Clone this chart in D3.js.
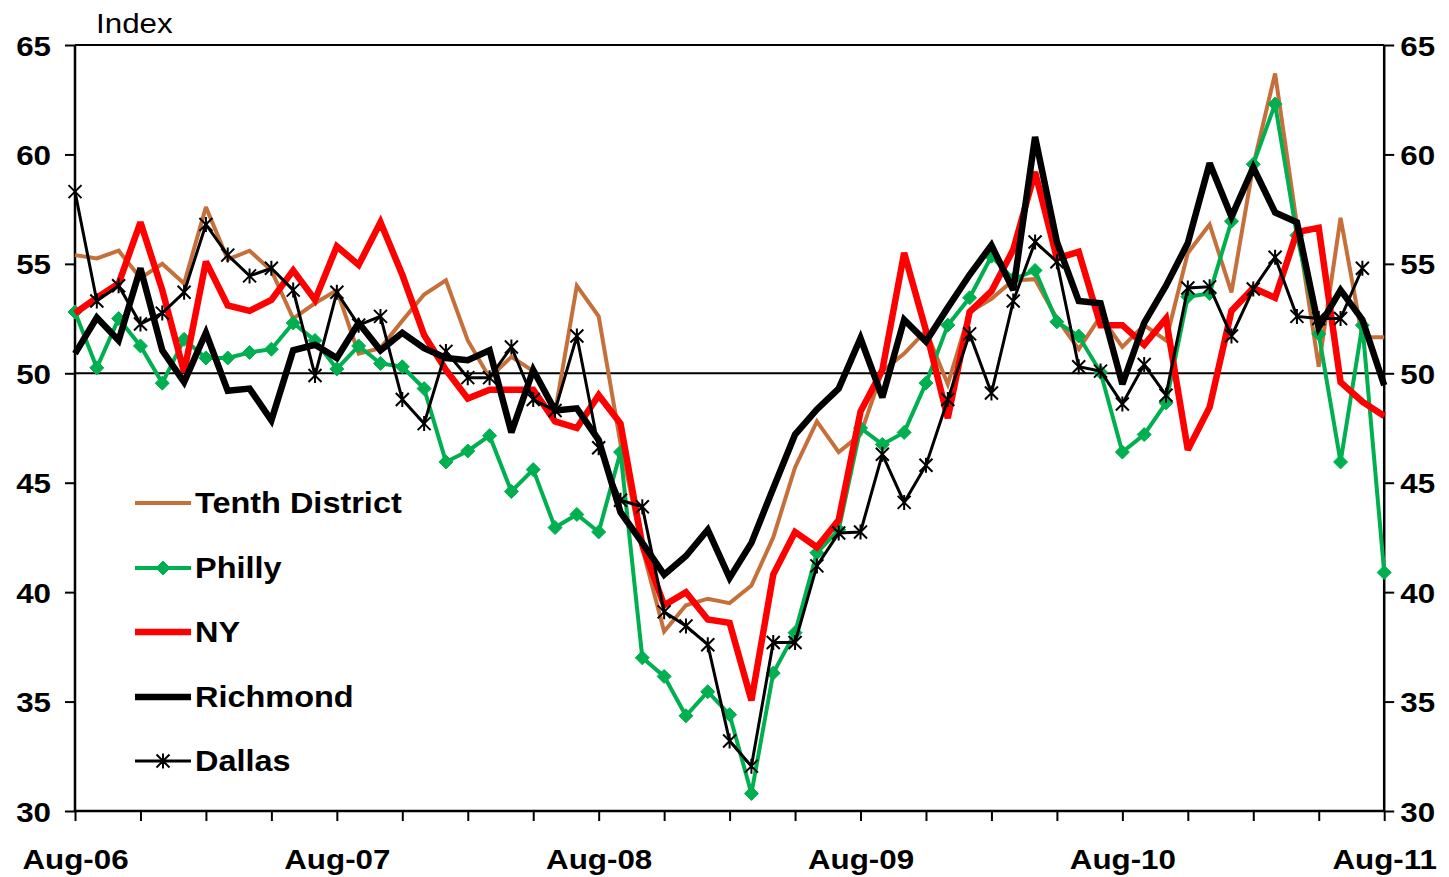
<!DOCTYPE html>
<html>
<head>
<meta charset="utf-8">
<script src="https://cdn.jsdelivr.net/npm/d3@7"></script>
<style>
  html, body { margin: 0; padding: 0; background: #fff; }
  svg { display: block; }
  text { font-family: "Liberation Sans", Arial, sans-serif; fill: #000; }
  text.sx-end { transform-box: fill-box; transform-origin: right center; transform: scaleX(1.12); }
  text.sx-start { transform-box: fill-box; transform-origin: left center; transform: scaleX(1.12); }
  text.sx-mid { transform-box: fill-box; transform-origin: center center; transform: scaleX(1.12); }
</style>
</head>
<body>
<svg id="chart" width="1449" height="877"></svg>
<script>
// ---- Data (monthly, Aug-06 .. Aug-11) ----
const months = d3.range(61); // 0 = Aug-06, 60 = Aug-11
const xTickLabels = ["Aug-06", "Aug-07", "Aug-08", "Aug-09", "Aug-10", "Aug-11"];
const yTickValues = [30, 35, 40, 45, 50, 55, 60, 65];

const tenthDistrict = [
  55.4, 55.25, 55.6, 54.35, 55.0, 54.1, 57.6, 55.2, 55.6, 54.7,
  52.5, 53.2, 53.8, 50.9, 51.15, 52.4, 53.6, 54.25, 51.5, 49.8,
  50.75, 50.1, 48.2, 54.0, 52.6, 46.8, 42.0, 38.2, 39.4, 39.7,
  39.5, 40.3, 42.5, 45.7, 47.8, 46.4, 47.2, 50.1, 50.9, 51.95,
  49.5, 52.8, 53.4, 54.25, 54.3, 52.5, 51.1, 52.6, 51.2, 52.2,
  51.5, 55.5, 56.8, 53.7, 59.5, 63.7, 56.8, 50.3, 57.1, 51.65,
  51.65
];
const philly = [
  52.8, 50.25, 52.5, 51.25, 49.55, 51.55, 50.7, 50.7, 50.95, 51.1,
  52.3, 51.5, 50.2, 51.25, 50.45, 50.3, 49.3, 45.95, 46.45, 47.15,
  44.6, 45.6, 42.95, 43.55, 42.75, 46.4, 37.0, 36.15, 34.35, 35.45,
  34.4, 30.8, 36.3, 38.15, 41.8, 42.85, 47.5, 46.75, 47.3, 49.55,
  52.2, 53.45, 55.35, 54.3, 54.7, 52.35, 51.7, 50.05, 46.4, 47.2,
  48.65, 53.5, 53.65, 56.95, 59.55, 62.3, 56.3, 51.8, 45.95, 52.2,
  40.9
];
const ny = [
  52.75, 53.45, 54.1, 56.9, 53.8, 50.05, 55.1, 53.1, 52.85, 53.35,
  54.7, 53.35, 55.8, 54.95, 56.9, 54.5, 51.75, 50.15, 48.85, 49.25,
  49.25, 49.25, 47.8, 47.5, 49.0, 47.7, 42.15, 39.4, 40.0, 38.75,
  38.6, 35.05, 40.8, 42.75, 42.05, 43.3, 48.25, 50.15, 55.5, 51.95,
  47.95, 52.8, 53.75, 55.65, 59.2, 55.25, 55.55, 52.2, 52.2, 51.3,
  52.5, 46.5, 48.45, 52.85, 53.9, 53.45, 56.45, 56.65, 49.6, 48.7,
  48.05
];
const richmond = [
  50.9, 52.55, 51.5, 54.8, 51.05, 49.6, 51.85, 49.2, 49.3, 47.85,
  51.05, 51.3, 50.7, 52.3, 51.05, 51.85, 51.15, 50.7, 50.6, 51.05,
  47.3, 50.15, 48.3, 48.4, 46.95, 43.65, 42.25, 40.8, 41.65, 42.85,
  40.65, 42.25, 44.75, 47.2, 48.35, 49.3, 51.6, 48.9, 52.45, 51.45,
  53.0, 54.5, 55.85, 53.8, 60.8, 56.0, 53.3, 53.2, 49.5, 52.3,
  54.0, 55.95, 59.6, 57.15, 59.4, 57.35, 56.9, 52.1, 53.8, 52.45,
  49.45
];
const dallas = [
  58.3, 53.3, 54.0, 52.25, 52.75, 53.7, 56.8, 55.4, 54.45, 54.8,
  53.8, 49.9, 53.7, 52.2, 52.6, 48.8, 47.7, 51.0, 49.8, 49.8,
  51.2, 48.8, 48.3, 51.7, 46.6, 44.2, 43.9, 39.1, 38.45, 37.6,
  33.2, 32.05, 37.7, 37.7, 41.2, 42.7, 42.75, 46.3, 44.1, 45.8,
  48.8, 51.8, 49.1, 53.3, 56.0, 55.1, 50.3, 50.1, 48.6, 50.4,
  49.0, 53.9, 53.95, 51.7, 53.85, 55.3, 52.6, 52.5, 52.5, 54.8
];

const seriesNames = ["Tenth District", "Philly", "NY", "Richmond", "Dallas"];

// ---- Layout ----
const plot = { left: 75, right: 1384.2, top: 45, bottom: 811 };
const svg = d3.select("#chart");

const x = d3.scaleLinear().domain([0, 60]).range([plot.left, plot.right]);
const y = d3.scaleLinear().domain([30, 65]).range([plot.bottom, plot.top]);

const series = [
  { name: seriesNames[0], values: tenthDistrict, color: "#C5703A", width: 4, marker: null },
  { name: seriesNames[1], values: philly, color: "#00B050", width: 4, marker: "diamond" },
  { name: seriesNames[2], values: ny, color: "#FF0000", width: 6.5, marker: null },
  { name: seriesNames[3], values: richmond, color: "#000000", width: 6.5, marker: null },
  { name: seriesNames[4], values: dallas, color: "#000000", width: 3, marker: "star" }
];

// ---- Frame ----
svg.append("line")
  .attr("x1", plot.left).attr("x2", plot.right)
  .attr("y1", plot.top).attr("y2", plot.top)
  .attr("stroke", "#000").attr("stroke-width", 2);

// reference line at 50
svg.append("line")
  .attr("x1", plot.left).attr("x2", plot.right)
  .attr("y1", y(50)).attr("y2", y(50))
  .attr("stroke", "#000").attr("stroke-width", 2);

// ---- Axes ----
const leftAxis = d3.axisLeft(y).tickValues(yTickValues).tickSize(10).tickPadding(14).tickFormat(d3.format("d"));
const rightAxis = d3.axisRight(y).tickValues(yTickValues).tickSize(10).tickPadding(6).tickFormat(d3.format("d"));
const bottomAxis = d3.axisBottom(x).tickValues(d3.range(0, 61, 3)).tickSize(10)
  .tickFormat(d => (d % 12 === 0 ? xTickLabels[d / 12] : ""));

function styleAxis(g) {
  g.select(".domain").attr("stroke", "#000").attr("stroke-width", 2.5);
  g.selectAll(".tick line").attr("stroke", "#000").attr("stroke-width", 2);
  g.selectAll(".tick text")
    .attr("font-family", "Liberation Sans, Arial, sans-serif")
    .attr("font-weight", "bold")
    .attr("font-size", 28)
    .attr("fill", "#000");
}

const gl = svg.append("g").attr("transform", `translate(${plot.left},0)`).call(leftAxis).call(styleAxis);
gl.select(".domain").attr("d", `M0,${plot.top}V${plot.bottom}`);
gl.selectAll(".tick text").attr("dy", "0.36em").attr("class", "sx-end");

const gr = svg.append("g").attr("transform", `translate(${plot.right},0)`).call(rightAxis).call(styleAxis);
gr.select(".domain").attr("d", `M0,${plot.top}V${plot.bottom}`);
gr.selectAll(".tick text").attr("dy", "0.36em").attr("class", "sx-start");

const gb = svg.append("g").attr("transform", `translate(0,${plot.bottom})`).call(bottomAxis).call(styleAxis);
gb.select(".domain").attr("d", `M${plot.left},0H${plot.right}`);
gb.selectAll(".tick text").attr("dy", "0").attr("y", 58).attr("class", "sx-mid");

// Axis title
svg.append("text")
  .attr("x", 96).attr("y", 33)
  .attr("font-size", 28)
  .attr("class", "sx-start")
  .text("Index");

// ---- Lines ----
const line = d3.line().x((d, i) => x(i)).y(d => y(d));

const diamondPath = "M0,-7L7,0L0,7L-7,0Z";
const starPath = "M-6.5,-6.5L6.5,6.5M-6.5,6.5L6.5,-6.5M0,-7.5L0,7.5";

function drawMarkers(g, s, pts) {
  if (s.marker === "diamond") {
    g.selectAll("path.mk").data(pts).join("path")
      .attr("class", "mk")
      .attr("transform", p => `translate(${p[0]},${p[1]})`)
      .attr("d", diamondPath)
      .attr("fill", s.color).attr("stroke", s.color).attr("stroke-width", 1);
  } else if (s.marker === "star") {
    g.selectAll("path.mk").data(pts).join("path")
      .attr("class", "mk")
      .attr("transform", p => `translate(${p[0]},${p[1]})`)
      .attr("d", starPath)
      .attr("fill", "none").attr("stroke", s.color).attr("stroke-width", 2);
  }
}

series.forEach(s => {
  const g = svg.append("g");
  g.append("path")
    .datum(s.values)
    .attr("d", line)
    .attr("fill", "none")
    .attr("stroke", s.color)
    .attr("stroke-width", s.width)
    .attr("stroke-linejoin", "miter")
    .attr("stroke-miterlimit", 3);
  drawMarkers(g, s, s.values.map((v, i) => [x(i), y(v)]));
});

// ---- Legend ----
const legendY = [503, 568, 632, 697, 761];
const legend = svg.append("g");
series.forEach((s, i) => {
  const g = legend.append("g");
  const yy = legendY[i];
  g.append("line")
    .attr("x1", 135).attr("x2", 191)
    .attr("y1", yy).attr("y2", yy)
    .attr("stroke", s.color).attr("stroke-width", s.width);
  drawMarkers(g, s, [[163, yy]]);
  g.append("text")
    .attr("x", 195).attr("y", yy)
    .attr("dy", "0.36em")
    .attr("font-size", 29)
    .attr("font-weight", "bold")
    .attr("class", "sx-start")
    .text(s.name);
});
</script>
</body>
</html>
